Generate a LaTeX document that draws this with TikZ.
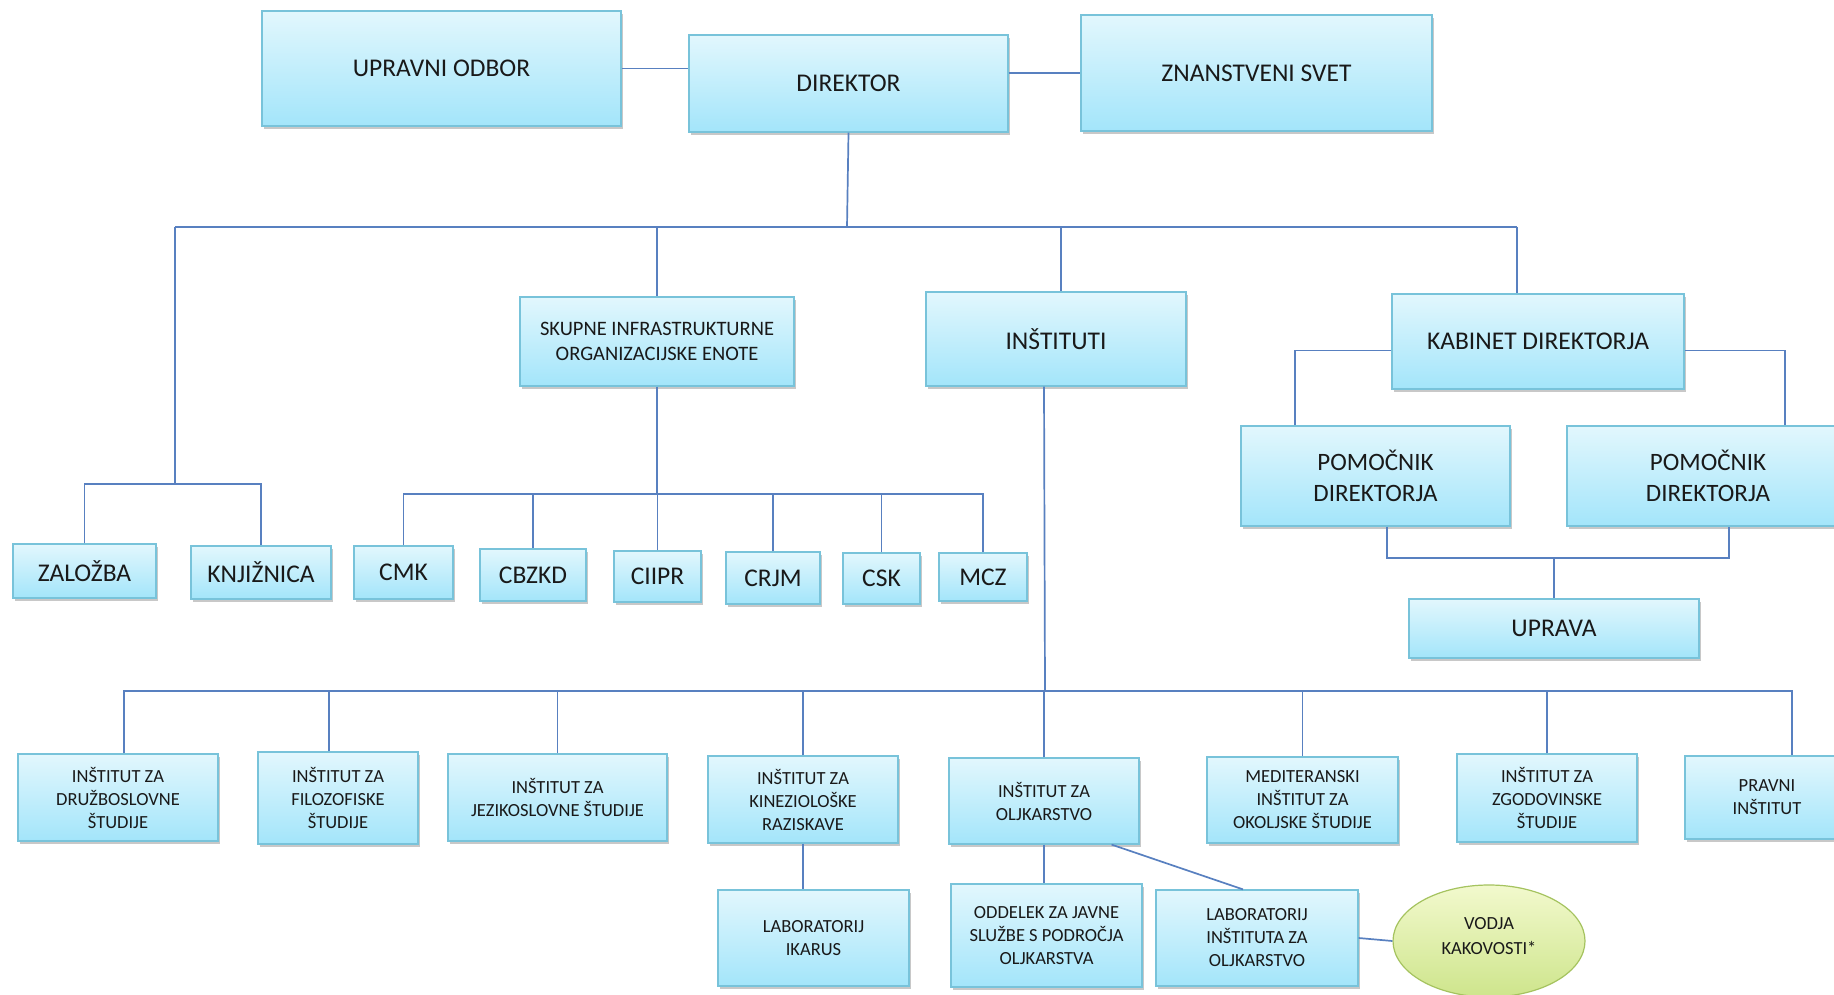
\documentclass[tikz,border=0pt]{standalone}
\usepackage{fontspec}
\setmainfont{Carlito}
\usetikzlibrary{shadows,calc,shapes.geometric}
\definecolor{boxtop}{RGB}{226,247,253}
\definecolor{boxbot}{RGB}{163,229,250}
\definecolor{boxline}{RGB}{120,195,218}
\definecolor{conn}{RGB}{88,128,192}
\definecolor{eltop}{RGB}{242,249,205}
\definecolor{elbot}{RGB}{206,229,140}
\definecolor{elline}{RGB}{165,195,95}
\tikzset{
  ubox/.style={rectangle, draw=boxline, line width=1.2pt, top color=boxtop, bottom color=boxbot,
    align=center, inner sep=0pt, text=black!90,
    drop shadow={shadow xshift=1.5pt, shadow yshift=-3pt, opacity=0.3, fill=black!70}},
  big/.style={font=\fontsize{25.5}{30}\selectfont},
  mid/.style={font=\fontsize{25}{31}\selectfont},
  sml/.style={font=\fontsize{18.5}{23}\selectfont},
  cn/.style={draw=conn, line width=1.7pt},
}
\newcommand\obox[7]{\node[ubox,#7, minimum width={(#4)-(#2)}, minimum height={(#5)-(#3)}] (#1) at ({((#2)+(#4))/2},{((#3)+(#5))/2}) {#6};}
\begin{document}
\begin{tikzpicture}[x=1pt,y=-1pt]
\useasboundingbox[fill=white] (0,0) rectangle (1834,995);
% top
\obox{uo}{262}{11}{621}{126}{UPRAVNI ODBOR}{big}
\obox{dir}{689}{35}{1008}{132}{DIREKTOR}{big}
\obox{zs}{1081}{15}{1432}{131}{ZNANSTVENI SVET}{big}
% second level
\obox{sk}{520}{297}{794}{386}{SKUPNE INFRASTRUKTURNE\\ORGANIZACIJSKE ENOTE}{font=\fontsize{20.5}{24.5}\selectfont}
\obox{inst}{926}{292}{1186}{386}{INŠTITUTI}{big}
\obox{kab}{1392}{294}{1684}{389}{KABINET DIREKTORJA}{big}
\obox{pom1}{1241}{426}{1510}{526}{POMOČNIK\\DIREKTORJA}{mid}
\obox{pom2}{1567}{426}{1849}{526}{POMOČNIK\\DIREKTORJA}{mid}
\obox{upr}{1409}{599}{1699}{658}{UPRAVA}{big}
% units row
\obox{zal}{13}{544}{156}{598}{ZALOŽBA}{big}
\obox{knj}{191}{546}{331}{599}{KNJIŽNICA}{big}
\obox{cmk}{354}{546}{453}{599}{CMK}{big}
\obox{cbz}{480}{549}{586}{601}{CBZKD}{big}
\obox{cii}{614}{551}{701}{602}{CIIPR}{big}
\obox{crj}{726}{552}{820}{604}{CRJM}{big}
\obox{csk}{843}{553}{920}{604}{CSK}{big}
\obox{mcz}{939}{553}{1027}{601}{MCZ}{big}
% institutes row
\obox{druz}{18}{754}{218}{841}{INŠTITUT ZA\\DRUŽBOSLOVNE\\ŠTUDIJE}{sml}
\obox{filo}{258}{752}{418}{844}{INŠTITUT ZA\\FILOZOFISKE\\ŠTUDIJE}{sml}
\obox{jez}{448}{754}{667}{841}{INŠTITUT ZA\\JEZIKOSLOVNE ŠTUDIJE}{sml}
\obox{kin}{708}{756}{898}{843}{INŠTITUT ZA\\KINEZIOLOŠKE\\RAZISKAVE}{sml}
\obox{olj}{949}{758}{1139}{844}{INŠTITUT ZA\\OLJKARSTVO}{sml}
\obox{med}{1207}{757}{1398}{843}{MEDITERANSKI\\INŠTITUT ZA\\OKOLJSKE ŠTUDIJE}{sml}
\obox{zgo}{1457}{754}{1637}{842}{INŠTITUT ZA\\ZGODOVINSKE\\ŠTUDIJE}{sml}
\obox{pra}{1685}{756}{1849}{839}{PRAVNI\\INŠTITUT}{sml}
% bottom row
\obox{ika}{718}{890}{909}{986}{LABORATORIJ\\IKARUS}{sml}
\obox{odd}{951}{884}{1142}{987}{ODDELEK ZA JAVNE\\SLUŽBE S PODROČJA\\OLJKARSTVA}{sml}
\obox{lab}{1156}{890}{1358}{986}{LABORATORIJ\\INŠTITUTA ZA\\OLJKARSTVO}{sml}
\node[ellipse, draw=elline, line width=1.2pt, top color=eltop, bottom color=elbot,
  minimum width=192pt, minimum height=112pt, align=center, inner sep=0pt] (vod) at (1489,941) {};
\node[align=center, font=\fontsize{18.5}{24.5}\selectfont, text=black!90] (vodt) at (1489,936) {VODJA\\KAKOVOSTI*};
% coordinates
\coordinate (b1) at (847,227);
\coordinate (b1L) at (175,227);
\coordinate (b1R) at (1517,227);
\coordinate (b2) at (175,484);
\coordinate (b3) at (1554,558);
\coordinate (b4) at (657,494);
\coordinate (b5) at (1045,691);
% connectors
\begin{scope}[cn]
\draw (uo.east) -- (uo.east -| dir.west);
\draw (dir.east |- zs.west) -- (zs.west);
\draw (dir.south) -- (b1);
\draw (b1L) -- (b1R);
\draw (b1L) -- (b2);
\draw (zal.north) |- (b2) -| (knj.north);
\draw (sk.north |- b1) -- (sk.north);
\draw (1061,0 |- b1) -- (1061,0 |- inst.north);
\draw (b1R) -- (b1R |- kab.north);
\draw ([yshift=-9pt]kab.west) -| (1295,0 |- pom1.north);
\draw ([yshift=-9pt]kab.east) -| (1785,0 |- pom2.north);
\draw (1387,0 |- pom1.south) |- (1729,0 |- b3) -- (1729,0 |- pom2.south);
\draw (upr.north) -- (upr.north |- b3);
\draw (sk.south) -- (b4);
\draw (cmk.north) |- (b4) -| (mcz.north);
\draw (cbz.north) -- (cbz.north |- b4);
\draw (cii.north) -- (cii.north |- b4);
\draw (crj.north) -- (crj.north |- b4);
\draw (csk.north) -- (csk.north |- b4);
\draw (1044,0 |- inst.south) -- (b5);
\draw (124,0 |- druz.north) |- (b5);
\draw (b5) -- (1792,691) -- (1792,0 |- pra.north);
\draw (329,0 |- filo.north) -- (329,0 |- b5);
\draw (jez.north) -- (jez.north |- b5);
\draw (kin.north) -- (kin.north |- b5);
\draw (olj.north) -- (olj.north |- b5);
\draw (med.north) -- (med.north |- b5);
\draw (zgo.north) -- (zgo.north |- b5);
\draw (kin.south) -- (kin.south |- ika.north);
\draw (olj.south) -- (olj.south |- odd.north);
\draw ($(olj.south east)+(-28,0)$) -- ($(lab.north)+(-14,0)$);
\draw (lab.east) -- (vod.west);
\end{scope}
\end{tikzpicture}
\end{document}
